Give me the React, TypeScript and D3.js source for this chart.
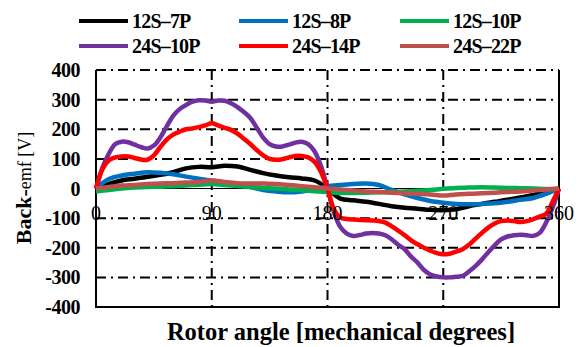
import * as d3 from "d3";

// x positions (mechanical degrees)
const angles5 = [
  0, 5, 10, 15, 20, 25, 30, 35, 40, 45, 50, 55, 60, 65, 70, 75, 80, 85, 90, 95,
  100, 105, 110, 115, 120, 125, 130, 135, 140, 145, 150, 155, 160, 165, 170, 175,
  180, 185, 190, 195, 200, 205, 210, 215, 220, 225, 230, 235, 240, 245, 250, 255,
  260, 265, 270, 275, 280, 285, 290, 295, 300, 305, 310, 315, 320, 325, 330, 335,
  340, 345, 350, 355, 360,
];
const angles10 = [
  0, 10, 20, 30, 40, 50, 60, 70, 80, 90, 100, 110, 120, 130, 140, 150, 160, 170,
  180, 190, 200, 210, 220, 230, 240, 250, 260, 270, 280, 290, 300, 310, 320, 330,
  340, 350, 360,
];

const s12_7 = [
  0, 15, 27, 33, 40, 46, 55, 68, 73, 72, 77, 74, 63, 52, 44, 38, 34, 27,
  0, -34, -40, -45, -52, -60, -65, -68, -72, -73, -70, -60, -52, -45, -38, -30,
  -22, -12, 0,
];
const s12_8 = [
  0, 32, 44, 50, 55, 53, 48, 40, 33, 27, 20, 12, 5, -5, -10, -13, -10, -3,
  8, 12, 15, 17, 12, -5, -20, -32, -42, -48, -52, -53, -52, -50, -45, -38,
  -32, -18, 0,
];
const s12_10 = [
  -10, -5, 0, 3, 5, 6, 8, 10, 13, 15, 12, 8, 5, 2, 0, -3, -6, -9,
  -12, -15, -15, -14, -13, -12, -10, -8, -5, -1, 2, 3, 4, 3, 2, 1,
  0, -2, -3,
];
const s24_22 = [
  0, 5, 10, 12, 15, 17, 18, 20, 22, 27, 22, 18, 17, 17, 15, 12, 8, 4,
  0, -3, -7, -10, -12, -14, -16, -18, -20, -24, -20, -18, -16, -14, -12, -10,
  -7, -3, 0,
];
const s24_10 = [
  0, 70, 118, 150, 158, 156, 148, 140, 135, 145, 172, 210, 245, 268, 282, 293,
  298, 297, 293, 297, 296, 288, 275, 258, 238, 205, 172, 150, 142, 142, 148, 155,
  158, 150, 125, 75, 0, -80, -130, -152, -160, -157, -152, -150, -152, -158, -172,
  -190, -205, -230, -250, -275, -290, -297, -300, -300, -298, -295, -280, -262,
  -240, -215, -192, -172, -162, -158, -156, -158, -160, -150, -115, -65, 0,
];
const s24_14 = [
  0, 65, 95, 105, 108, 108, 103, 98, 97, 112, 140, 165, 182, 192, 200, 203,
  207, 213, 220, 213, 205, 198, 185, 168, 150, 130, 112, 100, 97, 99, 105, 110,
  110, 105, 90, 55, 0, -70, -98, -103, -105, -106, -107, -108, -110, -115, -128,
  -142, -158, -175, -188, -200, -210, -218, -222, -220, -213, -205, -190, -170,
  -150, -132, -118, -110, -108, -110, -113, -110, -103, -95, -85, -45, 0,
];

const seriesNames = ["12S\u20137P", "12S\u20138P", "12S\u201310P", "24S\u201310P", "24S\u201314P", "24S\u201322P"];
const seriesColors = ["#000000", "#0070C0", "#00B050", "#7030A0", "#FF0000", "#C0504D"];
const seriesAngles = [angles10, angles10, angles10, angles5, angles5, angles10];
const seriesValues = [s12_7, s12_8, s12_10, s24_10, s24_14, s24_22];

const xTicks = [0, 90, 180, 270, 360];
const yTicks = [-400, -300, -200, -100, 0, 100, 200, 300, 400];

const W = 581;
const H = 347;
const serif = "'Liberation Serif', 'Times New Roman', serif";

export default function App() {
  const x = d3.scaleLinear().domain([0, 360]).range([96, 559]);
  const y = d3.scaleLinear().domain([-400, 400]).range([307, 70]);

  const line = d3
    .line<[number, number]>()
    .x((d) => x(d[0]))
    .y((d) => y(d[1]))
    .curve(d3.curveCatmullRom.alpha(0.5));

  const dash = "10,5,2,5";
  const legendCols = [79, 239, 400];
  const legendRows = [21, 46];

  return (
    <svg width={W} height={H} style={{ position: "absolute", left: 0, top: 0, background: "#fff" }}>
      {/* horizontal grid */}
      {yTicks
        .filter((t) => t !== 0 && t !== -400)
        .map((t) => (
          <line key={"h" + t} x1={x(0)} x2={x(360)} y1={y(t)} y2={y(t)} stroke="#000" strokeWidth={2} strokeDasharray={dash} />
        ))}
      {/* vertical grid */}
      {[90, 180, 270].map((t) => (
        <line key={"v" + t} x1={x(t)} x2={x(t)} y1={y(400)} y2={y(-400)} stroke="#000" strokeWidth={2} strokeDasharray={dash} />
      ))}
      {/* frame */}
      <line x1={x(0)} x2={x(0)} y1={y(400)} y2={y(-400)} stroke="#000" strokeWidth={2} />
      <line x1={x(360)} x2={x(360)} y1={y(400)} y2={y(-400)} stroke="#000" strokeWidth={2} />
      <line x1={x(0) - 1} x2={x(360) + 1} y1={y(-400)} y2={y(-400)} stroke="#000" strokeWidth={2} />
      <line x1={x(0)} x2={x(360)} y1={y(0)} y2={y(0)} stroke="#000" strokeWidth={1} />

      {/* curves */}
      {seriesValues.map((vals, i) => (
        <path
          key={seriesNames[i]}
          d={line(vals.map((v, j) => [seriesAngles[i][j], v] as [number, number])) || ""}
          fill="none"
          stroke={seriesColors[i]}
          strokeWidth={4.5}
          strokeLinejoin="round"
        />
      ))}

      {/* y tick labels */}
      {yTicks.map((t) => (
        <text key={"yl" + t} x={80} y={y(t)} dy="0.35em" textAnchor="end" fontFamily={serif} fontWeight="bold" fontSize={20} letterSpacing={-0.5}>
          {t < 0 ? "-" + Math.abs(t) : t}
        </text>
      ))}
      {/* x tick labels */}
      {xTicks.map((t) => (
        <text key={"xl" + t} x={x(t)} y={220} textAnchor="middle" fontFamily={serif} fontSize={20}>
          {t}
        </text>
      ))}

      {/* axis titles */}
      <text transform={`translate(31,188) rotate(-90)`} textAnchor="middle" fontFamily={serif}>
        <tspan fontWeight="bold" fontSize={22}>Back-</tspan>
        <tspan fontSize={18}>emf [V]</tspan>
      </text>
      <text x={341} y={340} textAnchor="middle" fontFamily={serif} fontWeight="bold" fontSize={24.5}>
        Rotor angle [mechanical degrees]
      </text>

      {/* legend */}
      {seriesNames.map((name, i) => {
        const cx = legendCols[i % 3];
        const cy = legendRows[Math.floor(i / 3)];
        return (
          <g key={"lg" + name}>
            <line x1={cx} x2={cx + 49} y1={cy} y2={cy} stroke={seriesColors[i]} strokeWidth={4} />
            <text x={cx + 53} y={cy + 7} fontFamily={serif} fontWeight="bold" fontSize={20} letterSpacing={-0.8}>
              {name}
            </text>
          </g>
        );
      })}
    </svg>
  );
}
